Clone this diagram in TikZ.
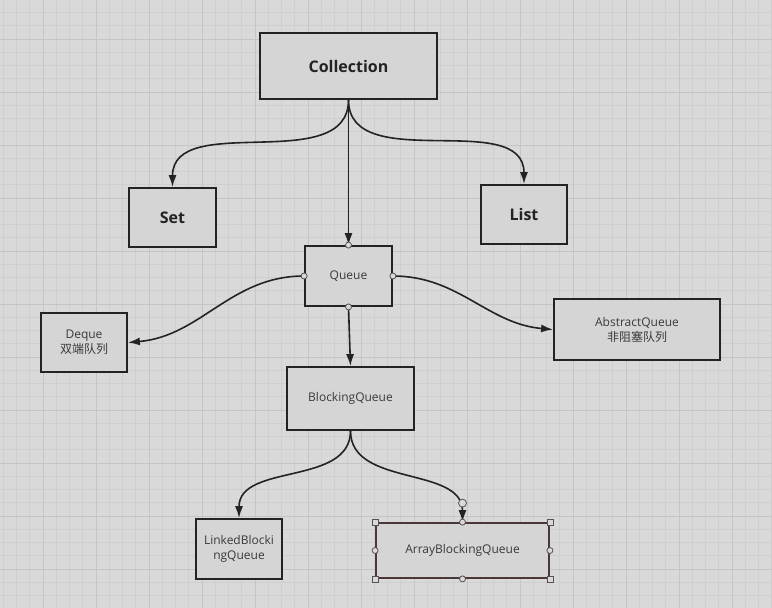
\documentclass[tikz,border=0pt]{standalone}
\usepackage{fontspec}
\setmainfont{Open Sans}
\newfontfamily\cjk{Noto Sans CJK SC}
\usetikzlibrary{arrows.meta, positioning}
\definecolor{bggray}{HTML}{D9D9D9}
\definecolor{minorgrid}{HTML}{CFCFCF}
\definecolor{majorgrid}{HTML}{C5C5C5}
\definecolor{boxfill}{HTML}{D5D5D5}
\definecolor{boxline}{HTML}{232323}
\definecolor{textgray}{HTML}{3A3A3A}
\definecolor{selline}{HTML}{4A3838}
\definecolor{handleline}{HTML}{5A5050}
\begin{document}
\begin{tikzpicture}[x=1pt, y=-1pt,
    blk/.style={draw=boxline, fill=boxfill, line width=1.8pt, align=center, inner sep=2pt,
      text=textgray, font=\fontsize{12}{15}\selectfont},
    bigblk/.style={blk, text=boxline, font=\fontsize{16}{18}\selectfont\bfseries},
    arrow/.style={-{Latex[length=12pt,width=8pt]}, line width=1.6pt, draw=boxline},
    handle/.style={circle, draw=handleline, fill=bggray, line width=0.8pt, inner sep=0pt, minimum size=6pt},
    sqhandle/.style={rectangle, draw=handleline, fill=bggray, line width=0.8pt, inner sep=0pt, minimum size=6pt}]
    \useasboundingbox (0,0) rectangle (772,608);
    % background grid
    \fill[bggray] (0,0) rectangle (772,608);
    \foreach \i in {0,...,58} \draw[minorgrid, line width=0.8pt] ({3.25+13.25*\i},0) -- ++(0,608);
    \foreach \i in {0,...,46} \draw[minorgrid, line width=0.8pt] (0,{-0.75+13.25*\i}) -- ++(772,0);
    \foreach \i in {0,...,14} \draw[majorgrid, line width=1pt] ({-10+53*\i},0) -- ++(0,608);
    \foreach \i in {0,...,11} \draw[majorgrid, line width=1pt] (0,{-14+53*\i}) -- ++(772,0);

    \node[bigblk, minimum width=177pt, minimum height=66pt] (coll) at (348.5,66) {Collection};
    \node[bigblk, minimum width=87pt, minimum height=59pt] (set) at (172.5,217.5) {Set};
    \node[bigblk, minimum width=86pt, minimum height=59pt] (list) at (524,214.5) {List};
    \node[blk, minimum width=87pt, minimum height=60pt] (queue) at (348.5,276) {Queue};
    \node[blk, minimum width=86pt, minimum height=59pt] (deque) at (84,342.5) {Deque\\{\cjk 双端队列}};
    \node[blk, minimum width=166pt, minimum height=61pt] (absq) at (637,329.5) {AbstractQueue\\{\cjk 非阻塞队列}};
    \node[blk, minimum width=127pt, minimum height=63pt] (blkq) at (350.5,398.5) {BlockingQueue};
    \node[blk, minimum width=86pt, minimum height=60pt] (linkq) at (239,549) {LinkedBlocki\\ngQueue};
    \node[blk, draw=selline, minimum width=173pt, minimum height=55pt] (arrq) at (462.5,550.5) {ArrayBlockingQueue};

    \draw[arrow] (coll.south) to[out=-90, in=90] (set.north);
    \draw[arrow] (coll.south) to[out=-90, in=90] (list.north);
    \draw[arrow] (coll.south) -- (queue.north);
    \draw[arrow] (queue.west) to[out=180, in=5] (deque.east);
    \draw[arrow] (queue.east) to[out=0, in=175] (absq.west);
    \draw[arrow] (queue.south) -- (blkq.north);
    \draw[arrow] (blkq.south) to[out=-90, in=90] (linkq.north);
    \draw[arrow] (blkq.south) to[out=-90, in=90] (arrq.north);

    % selection handles
    \foreach \a in {north,south,east,west} \node[handle] (qh-\a) at (queue.\a) {};
    \foreach \a in {north,south,east,west} \node[handle] (ah-\a) at (arrq.\a) {};
    \foreach \a in {north east,north west,south east,south west} \node[sqhandle] (as-\a) at (arrq.\a) {};
    \node[handle, minimum size=8pt] (aend) at ([yshift=19pt]arrq.north) {};
\end{tikzpicture}
\end{document}
